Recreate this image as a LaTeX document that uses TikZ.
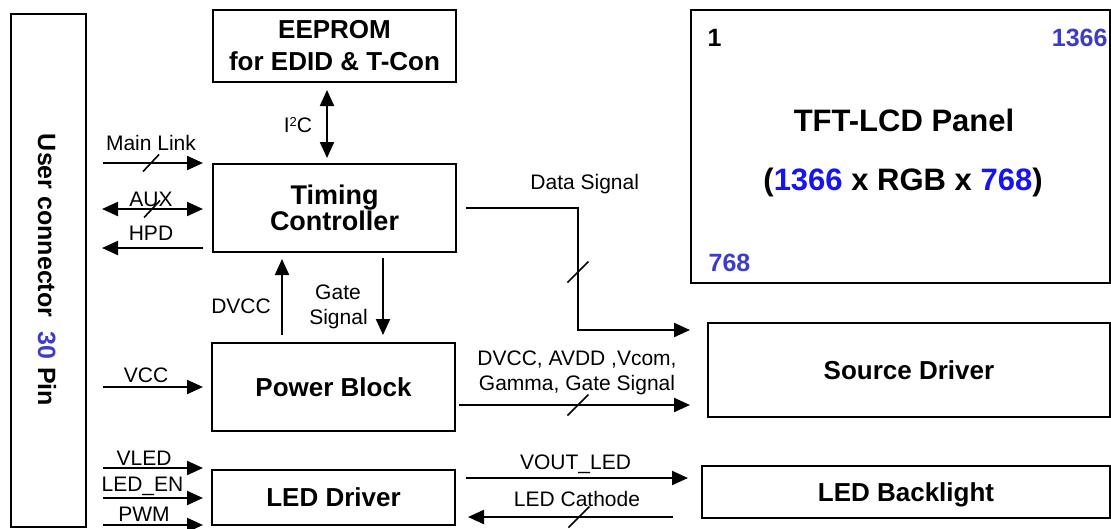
\documentclass[tikz,border=0pt]{standalone}
\usepackage{fontspec}
\setmainfont{Liberation Sans}
\usetikzlibrary{arrows.meta}
\definecolor{cblue}{RGB}{60,60,200}
\definecolor{bblue}{RGB}{20,20,245}
\begin{document}
\begin{tikzpicture}[x=1pt,y=-1pt,
  box/.style={draw=black, line width=2pt, inner sep=0pt, outer sep=0pt, align=center,
              font=\bfseries\fontsize{26}{31}\selectfont},
  one/.style={text height=18.6pt, text depth=0pt},
  lbl/.style={inner sep=0pt, anchor=base, font=\fontsize{21}{25}\selectfont},
  corner/.style={inner sep=0pt, font=\bfseries\fontsize{25}{30}\selectfont},
  con/.style={line width=2.2pt, -{Triangle[length=16pt,width=14pt]}},
  bicon/.style={line width=2.2pt, {Triangle[length=16pt,width=14pt]}-{Triangle[length=16pt,width=14pt]}},
  slash/.style={line width=1.6pt}]

\useasboundingbox (0,0) rectangle (1111,528);

% helper rows / columns
\coordinate (rML) at (0,163);
\coordinate (rAUX) at (0,209);
\coordinate (rHPD) at (0,248);
\coordinate (rVCC) at (0,387);
\coordinate (rVLED) at (0,468);
\coordinate (rEN) at (0,498);
\coordinate (rPWM) at (0,525);
\coordinate (cI2C) at (327,0);
\coordinate (cDVCC) at (282,0);
\coordinate (cGATE) at (383,0);
\coordinate (cDATA) at (578,0);
\coordinate (rDATA) at (0,330);
\coordinate (rPS) at (0,405);
\coordinate (rVOUT) at (0,478);
\coordinate (rCATH) at (0,517);

% boxes
\node[box, minimum width=75pt, minimum height=513pt] (conn) at (48.5,270.5) {};
\node[inner sep=0pt, rotate=-90, font=\bfseries\fontsize{25}{30}\selectfont] (connt) at (47,270)
  {User connector\hspace{14pt}\textcolor{cblue}{30}\hspace{8pt}Pin};
\node[box, minimum width=243pt, minimum height=72pt, font=\bfseries\fontsize{26}{32}\selectfont] (eeprom) at (334.5,46) {EEPROM\\for EDID \& T-Con};
\node[box, minimum width=243pt, minimum height=88pt, font=\bfseries\fontsize{27}{25.8}\selectfont] (tcon) at (334.5,208) {Timing\\Controller};
\node[box, one, minimum width=243pt, minimum height=88pt] (power) at (333.5,387) {Power Block};
\node[box, one, minimum width=243pt, minimum height=55pt] (leddrv) at (333.5,497.5) {LED Driver};
\node[box, minimum width=419pt, minimum height=273pt] (panel) at (900.5,146.5) {};
\node[box, one, minimum width=402pt, minimum height=94pt] (source) at (909,370) {Source Driver};
\node[box, one, minimum width=408pt, minimum height=52pt] (backlight) at (906,492) {LED Backlight};

% panel texts
\node[inner sep=0pt, anchor=base, font=\bfseries\fontsize{31}{37}\selectfont] (ptitle) at (904,131.7) {TFT-LCD Panel};
\node[inner sep=0pt, anchor=base, font=\bfseries\fontsize{31}{37}\selectfont] (pres) at (903,190)
  {(\textcolor{bblue}{1366} x RGB x \textcolor{bblue}{768})};
\node[corner, anchor=base] (p1) at (714.5,46.7) {1};
\node[corner, anchor=base east, text=cblue] (p1366) at (1107.7,46.7) {1366};
\node[corner, anchor=base, text=cblue] (p768) at (729.5,271.7) {768};

% left side connectors
\draw[con, shorten <=17pt, shorten >=10pt] (conn.east |- rML) -- coordinate[pos=0.512] (sML) (tcon.west |- rML);
\draw[slash] (sML) ++(-8,8.5) -- ++(16,-17);
\draw[bicon, shorten <=16pt, shorten >=10pt] (conn.east |- rAUX) -- coordinate[pos=0.52] (sAUX) (tcon.west |- rAUX);
\draw[slash] (sAUX) ++(-8,8.5) -- ++(16,-17);
\draw[con, shorten <=10pt, shorten >=16pt] (tcon.west |- rHPD) -- (conn.east |- rHPD);
\draw[con, shorten <=17pt, shorten >=9pt] (conn.east |- rVCC) -- (power.west |- rVCC);
\draw[con, shorten <=17pt, shorten >=9pt] (conn.east |- rVLED) -- (leddrv.west |- rVLED);
\draw[con, shorten <=17pt, shorten >=9pt] (conn.east |- rEN) -- (leddrv.west |- rEN);
\draw[con, shorten <=17pt, shorten >=9pt] (conn.east |- rPWM) -- (leddrv.west |- rPWM);

\node[lbl] (lML) at (151,150) {Main Link};
\node[lbl] (lAUX) at (151,206) {AUX};
\node[lbl] (lHPD) at (151,240.7) {HPD};
\node[lbl] (lVCC) at (146,382.7) {VCC};
\node[lbl] (lVLED) at (144,465) {VLED};
\node[lbl] (lEN) at (142.5,491) {LED\_EN};
\node[lbl] (lPWM) at (144,521.7) {PWM};

% vertical connectors
\draw[bicon, shorten <=8pt, shorten >=6pt] (eeprom.south -| cI2C) -- (tcon.north -| cI2C);
\draw[con, shorten <=8pt, shorten >=7pt] (power.north -| cDVCC) -- (tcon.south -| cDVCC);
\draw[con, shorten <=6pt, shorten >=8pt] (tcon.south -| cGATE) -- (power.north -| cGATE);
\node[lbl] (lI2C) at (298,132) {I\raisebox{6pt}{\fontsize{13}{15}\selectfont 2}C};
\node[lbl] (lDVCC) at (241,313) {DVCC};
\node[lbl] (lGate1) at (338,299) {Gate};
\node[lbl] (lGate2) at (338.5,324) {Signal};

% right side connectors
\draw[con, shorten <=10pt, shorten >=18pt] (tcon.east) -- (cDATA |- tcon.east)
  -- coordinate[pos=0.525] (sDATA) (cDATA |- rDATA) -- (source.west |- rDATA);
\draw[slash] (sDATA) ++(-10.5,10.5) -- ++(21,-21);
\draw[con, shorten <=4pt, shorten >=18pt] (power.east |- rPS) -- coordinate[pos=0.486] (sPS) (source.west |- rPS);
\draw[slash] (sPS) ++(-10.5,10.5) -- ++(21,-21);
\draw[con, shorten <=11pt, shorten >=14pt] (leddrv.east |- rVOUT) -- (backlight.west |- rVOUT);
\draw[con, shorten <=29pt, shorten >=13pt] (backlight.west |- rCATH) -- coordinate[pos=0.498] (sCATH) (leddrv.east |- rCATH);
\draw[slash] (sCATH) ++(-10.5,10.5) -- ++(21,-21);

\node[lbl] (lDATA) at (584.7,189) {Data Signal};
\node[lbl] (lPS1) at (577,365) {DVCC, AVDD ,Vcom,};
\node[lbl] (lPS2) at (577,390) {Gamma, Gate Signal};
\node[lbl] (lVOUT) at (575.5,469.3) {VOUT\_LED};
\node[lbl] (lCATH) at (577,506.7) {LED Cathode};

\end{tikzpicture}
\end{document}
